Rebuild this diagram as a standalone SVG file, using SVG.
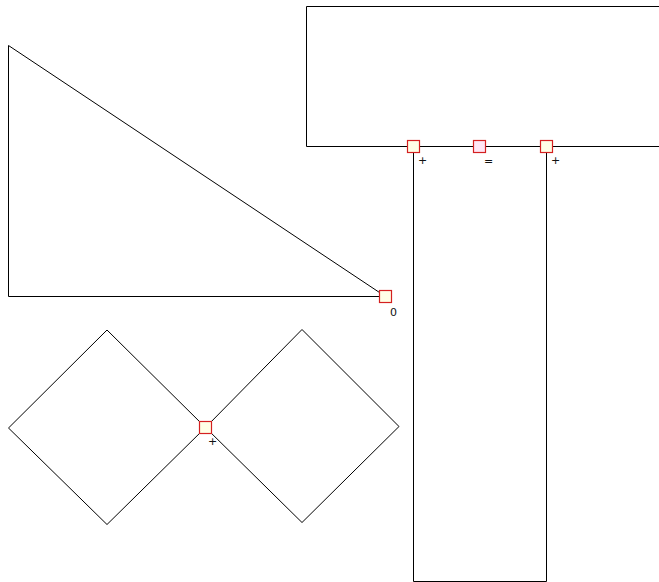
<svg xmlns="http://www.w3.org/2000/svg" width="659" height="582" viewBox="0 0 659 582">
<style>
.sh{fill:none;stroke:#000;stroke-width:1}
.pt{stroke:#d42020;stroke-width:1.2;fill:#ffffe6}
.pt2{stroke:#d42020;stroke-width:1.2;fill:#ffe6f5}
.lb{font-family:"DejaVu Sans",sans-serif;font-size:11px;fill:#111}
</style>
<rect width="659" height="582" fill="#fff"/>
<g id="top-rect">
<path class="sh" d="M670,146.5 H306.5 V6.5 H670"/>
</g>
<g id="stem">
<path class="sh" d="M413.5,146.5 V581.5 H546.5 V146.5"/>
</g>
<g id="triangle">
<path class="sh" d="M8.5,45.5 L385.5,296.5 H8.5 Z"/>
</g>
<g id="diamond-left">
<path class="sh" d="M8.5,428 L107,330 L205.5,427.5 L107,524.5 Z"/>
</g>
<g id="diamond-right">
<path class="sh" d="M205.5,427.5 L302,329.5 L399,426.5 L302,522.5 Z"/>
</g>
<g id="connectors">
<rect class="pt" x="407.5" y="140.5" width="12" height="12"/>
<rect class="pt2" x="473.5" y="140.5" width="12" height="12"/>
<rect class="pt" x="540.5" y="140.5" width="12" height="12"/>
<rect class="pt" x="379.5" y="290.5" width="12" height="12"/>
<rect class="pt" x="199.5" y="421.5" width="12" height="12"/>
<text class="lb" x="418" y="164">+</text>
<text class="lb" x="484" y="165">=</text>
<text class="lb" x="551" y="164">+</text>
<text class="lb" x="390" y="316">0</text>
<text class="lb" x="208" y="445">+</text>
</g>
</svg>
